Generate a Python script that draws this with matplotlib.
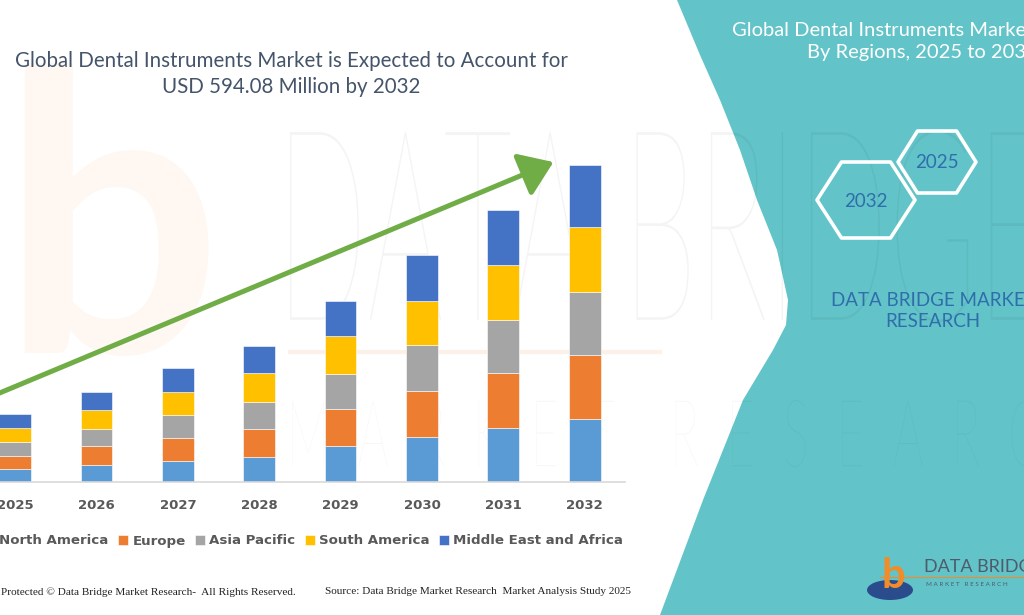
import numpy as np
import matplotlib
matplotlib.use("Agg")
import matplotlib.pyplot as plt
from matplotlib.patches import Polygon, FancyArrowPatch, Ellipse, PathPatch
from matplotlib.textpath import TextPath
from matplotlib.font_manager import FontProperties
from matplotlib.transforms import Affine2D

# data (USD million)
years = ["2025", "2026", "2027", "2028", "2029", "2030", "2031", "2032"]
regions = ["North America", "Europe", "Asia Pacific", "South America",
           "Middle East and Africa"]
north_america = [25, 31, 40, 47, 67, 84, 101, 118]
europe = [24, 36, 43, 52, 69, 86, 103, 119]
asia_pacific = [25, 33, 43, 51, 67, 86, 99, 119]
south_america = [27, 35, 43, 54, 70, 83, 104, 121]
mea = [26, 34, 45, 51, 66, 86, 103, 117]
colors = ["#5B9BD5", "#ED7D31", "#A5A5A5", "#FFC000", "#4472C4"]

W, H = 1024, 615


def fx(px):
    return px / W


def fy(py):
    return 1 - py / H


fig = plt.figure(figsize=(10.24, 6.15), dpi=100)
fig.patch.set_facecolor("white")

# teal panel on the right
edge = [(677, 0), (700, 55), (720, 100), (740, 150), (757, 200), (777, 250),
        (788, 300), (786, 325), (773, 350), (743, 400), (703, 500), (660, 615)]
pts = [(fx(x), fy(y)) for x, y in edge] + [(1.0, 0.0), (1.0, 1.0)]
fig.patches.append(Polygon(pts, closed=True, transform=fig.transFigure,
                           facecolor="#62C4C8", edgecolor="none", zorder=-3))


# faint watermark, stretched to the narrow letters of the original
def stretched_text(s, left, right, top, bottom, alpha, weight="light"):
    tp = TextPath((0, 0), s, size=1, prop=FontProperties(family="Lato", weight=weight))
    ext = tp.get_extents()
    sx = (right - left) / W / ext.width
    sy = (bottom - top) / H / ext.height
    tr = (Affine2D().translate(-ext.x0, -ext.y0).scale(sx, sy)
          .translate(fx(left), fy(bottom)) + fig.transFigure)
    fig.patches.append(PathPatch(tp, transform=tr, facecolor="black",
                                 edgecolor="none", alpha=alpha, zorder=-2))


fig.text(fx(0), fy(352), "b", fontsize=280, fontweight="bold", family="Lato",
         color="#F08030", alpha=0.06, ha="left", va="baseline", zorder=-2)
stretched_text("DATA BRIDGE", 290, 1040, 130, 322, 0.045)
stretched_text("M  A  R  K  E  T    R  E  S  E  A  R  C  H", 292, 1100, 400, 467, 0.035)
fig.lines.append(plt.Line2D([fx(290), fx(660)], [fy(352), fy(352)],
                            transform=fig.transFigure, color="#F5C9A8",
                            alpha=0.25, lw=3, zorder=-2))

# chart axes
ax = fig.add_axes([fx(-25.6), fy(482), fx(651), 373.9 / H])
ax.set_facecolor("none")
x = np.arange(len(years))
series = [north_america, europe, asia_pacific, south_america, mea]
bottom = np.zeros(len(years))
for name, vals, c in zip(regions, series, colors):
    ax.bar(x, vals, width=0.39, bottom=bottom, color=c, label=name,
           edgecolor="white", linewidth=0.4)
    bottom += np.array(vals)

ax.set_xlim(-0.5, 7.5)
ax.set_ylim(0, 700)
ax.set_yticks([])
ax.set_xticks(x)
ax.set_xticklabels(years, fontsize=9.5, fontweight="bold", color="#595959")
ax.tick_params(axis="x", length=0, pad=12)
for s in ["top", "left", "right"]:
    ax.spines[s].set_visible(False)
ax.spines["bottom"].set_color("#D9D9D9")
ax.spines["bottom"].set_linewidth(1.2)

# legend
fig.legend(loc="center left", bbox_to_anchor=(fx(-20), fy(541)), ncol=5,
           frameon=False, handlelength=0.75, handleheight=0.75,
           handletextpad=0.3, columnspacing=0.72, borderaxespad=0,
           prop={"weight": "bold", "size": 9.65}, labelcolor="#595959")

# green trend arrow
fig.patches.append(FancyArrowPatch((fx(-10), fy(397)), (fx(556), fy(161)),
                                   transform=fig.transFigure,
                                   arrowstyle="-|>,head_length=10,head_width=7",
                                   mutation_scale=2.0, color="#70AD47",
                                   lw=3.6, zorder=5))

# titles
fig.text(fx(291), fy(74), "Global Dental Instruments Market is Expected to Account for\nUSD 594.08 Million by 2032",
         ha="center", va="center", fontsize=14.8, family="Lato",
         color="#44546A", linespacing=1.35)
fig.text(fx(1038), fy(41.5), "Global Dental Instruments Market,\nBy Regions, 2025 to 2032",
         ha="right", va="center", multialignment="right", fontsize=14.5,
         family="Lato", color="white", linespacing=1.4)


# hexagons
def hexagon(cx, cy, hw, hh):
    p = [(cx - hw, cy), (cx - hw / 2, cy - hh), (cx + hw / 2, cy - hh),
         (cx + hw, cy), (cx + hw / 2, cy + hh), (cx - hw / 2, cy + hh)]
    return Polygon([(fx(a), fy(b)) for a, b in p], closed=True,
                   transform=fig.transFigure, facecolor="none",
                   edgecolor="white", lw=2.6, joinstyle="round")


fig.patches.append(hexagon(866, 200, 49, 38))
fig.patches.append(hexagon(937, 162, 39, 31))
fig.text(fx(866), fy(201), "2032", ha="center", va="center", fontsize=13.5,
         family="Lato", color="#2F6EAB")
fig.text(fx(937), fy(163), "2025", ha="center", va="center", fontsize=13.5,
         family="Lato", color="#2F6EAB")
fig.text(fx(933), fy(311), "DATA BRIDGE MARKET\nRESEARCH", ha="center",
         va="center", fontsize=13.5, family="Lato", color="#2F6EAB",
         linespacing=1.25)

# logo bottom right
fig.patches.append(Ellipse((fx(890), fy(590)), fx(46), 20 / H,
                           transform=fig.transFigure, facecolor="#2B4C8C",
                           edgecolor="none"))
fig.text(fx(893), fy(588), "b", ha="center", va="baseline", fontsize=30,
         fontweight="bold", family="Lato", color="#F28C28")
fig.text(fx(924), fy(567), "DATA BRIDGE", ha="left", va="center",
         fontsize=13, family="Lato", color="#4D5B6B")
fig.lines.append(plt.Line2D([fx(880), fx(1024)], [fy(577), fy(577)],
                            transform=fig.transFigure, color="#F28C28",
                            lw=0.8))
fig.text(fx(926), fy(585), "M A R K E T   R E S E A R C H", ha="left",
         va="center", fontsize=4.5, family="Lato", color="#4D5B6B")

# footer
fig.text(fx(1), fy(592), "Protected \u00a9 Data Bridge Market Research-  All Rights Reserved.",
         ha="left", va="center", fontsize=8.1, family="Liberation Serif",
         color="#222222")
fig.text(fx(325), fy(592), "Source: Data Bridge Market Research  Market Analysis Study 2025",
         ha="left", va="center", fontsize=8.1, family="Liberation Serif",
         color="#222222")

fig.savefig("out.png", dpi=100, facecolor="white")
